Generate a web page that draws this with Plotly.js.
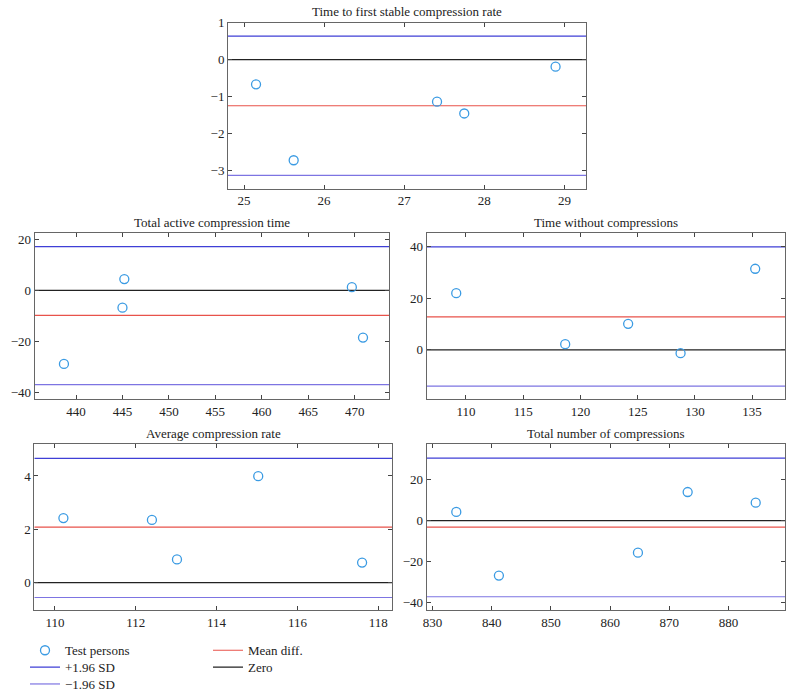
<!DOCTYPE html>
<html>
<head>
<meta charset="utf-8">
<script src="https://cdn.plot.ly/plotly-3.0.1.min.js"></script>
<style>html,body{margin:0;padding:0;background:#fff;overflow:hidden;}#chart{width:794px;height:699px;}</style>
</head>
<body>
<div id="chart"></div>
<script>
// ---- Data ----
const titles = [
  "Time to first stable compression rate",
  "Total active compression time",
  "Time without compressions",
  "Average compression rate",
  "Total number of compressions"
];
const xMeans = [
  [25.15, 25.62, 27.41, 27.75, 28.89],
  [438.7, 445.2, 445.0, 469.7, 470.9],
  [109.15, 118.67, 124.17, 128.75, 135.27],
  [110.21, 112.40, 113.02, 115.03, 117.60],
  [834.0, 841.2, 864.7, 873.1, 884.6]
];
const yDiffs = [
  [-0.67, -2.73, -1.14, -1.46, -0.19],
  [-28.8, 4.4, -6.8, 1.2, -18.5],
  [22.0, 2.2, 10.1, -1.3, 31.5],
  [2.42, 2.35, 0.87, 3.99, 0.75],
  [4.2, -26.7, -15.6, 13.9, 8.7]
];
const upperSD = [0.64, 17.1, 40.0, 4.66, 30.4];
const meanDiff = [-1.25, -9.8, 12.8, 2.08, -3.2];
const lowerSD = [-3.14, -36.9, -14.1, -0.56, -37.0];
const zeroLine = [0, 0, 0, 0, 0];
const xRanges = [[24.8, 29.27], [435.55, 473.7], [106.57, 137.9], [109.49, 118.34], [829.0, 889.6]];
const yRanges = [[-3.5, 1], [-42.7, 22.4], [-19.3, 45.4], [-1.04, 5.18], [-43.6, 37.0]];
const xDticks = [1, 5, 5, 2, 10];
const yDticks = [1, 20, 20, 2, 20];
const legendNames = ["Test persons", "+1.96 SD", "\u22121.96 SD", "Mean diff.", "Zero"];

// ---- Layout geometry (pixels) ----
const W = 794, H = 699;
const boxes = [
  [228, 586, 23, 190],
  [34.7, 389, 234.7, 402.3],
  [426.7, 785.3, 234.7, 402.3],
  [34.3, 392, 447.7, 614.7],
  [426.7, 785.3, 447.7, 614.7]
];
// legend rows: [left px, center y px]
const legendPos = [[25, 655], [25, 672], [25, 689], [208, 655], [208, 672]];

const font = "Liberation Serif";
const cMarker = "#3b9be3", cUp = "#3f3fd6", cLow = "#7d74e2", cMean = "#e8524a", cZero = "#222";

const traces = [];
const layout = {
  width: W, height: H,
  margin: {l: 0, r: 0, t: 0, b: 0},
  paper_bgcolor: "#fff", plot_bgcolor: "#fff",
  font: {family: font, size: 12, color: "#222"},
  showlegend: true,
  annotations: []
};
const legendIds = ["legend", "legend2", "legend3", "legend4", "legend5"];
legendIds.forEach((id, k) => {
  layout[id] = {x: legendPos[k][0] / W, y: 1 - legendPos[k][1] / H, xanchor: "left", yanchor: "middle",
    font: {family: font, size: 13, color: "#222"}, bgcolor: "rgba(0,0,0,0)", borderwidth: 0};
});

for (let i = 0; i < 5; i++) {
  const s = i === 0 ? "" : String(i + 1);
  const xa = "x" + s, ya = "y" + s;
  const b = boxes[i];
  const axCommon = {
    showgrid: false, zeroline: false, showline: true, mirror: "ticks",
    linecolor: "#666", linewidth: 1, ticks: "inside", ticklen: 4, tickcolor: "#444",
    tickfont: {family: font, size: 13, color: "#222"}, fixedrange: true
  };
  layout["xaxis" + s] = Object.assign({}, axCommon, {
    domain: [b[0] / W, b[1] / W], range: xRanges[i], dtick: xDticks[i], tick0: 0, anchor: ya
  });
  layout["yaxis" + s] = Object.assign({}, axCommon, {
    domain: [1 - b[3] / H, 1 - b[2] / H], range: yRanges[i], dtick: yDticks[i], tick0: 0, anchor: xa
  });
  layout.annotations.push({
    text: titles[i], xref: "paper", yref: "paper",
    x: (b[0] + b[1]) / 2 / W, y: 1 - b[2] / H, xanchor: "center", yanchor: "middle",
    yshift: 11, showarrow: false, font: {family: font, size: 13, color: "#222"}
  });
  const first = i === 0;
  const hl = (vals, k, color) => ({
    type: "scatter", mode: "lines", x: xRanges[i], y: [vals[i], vals[i]],
    xaxis: xa, yaxis: ya, name: legendNames[k], line: {color: color, width: 1.2},
    showlegend: first, legend: legendIds[k], hoverinfo: "skip"
  });
  traces.push(hl(upperSD, 1, cUp));
  traces.push(hl(lowerSD, 2, cLow));
  traces.push(hl(meanDiff, 3, cMean));
  traces.push(hl(zeroLine, 4, cZero));
  traces.push({
    type: "scatter", mode: "markers", x: xMeans[i], y: yDiffs[i],
    xaxis: xa, yaxis: ya, name: legendNames[0],
    marker: {symbol: "circle-open", size: 9, color: cMarker, line: {width: 1.3, color: cMarker}},
    showlegend: first, legend: legendIds[0]
  });
}

Plotly.newPlot("chart", traces, layout, {staticPlot: true, displayModeBar: false});
</script>
</body>
</html>
